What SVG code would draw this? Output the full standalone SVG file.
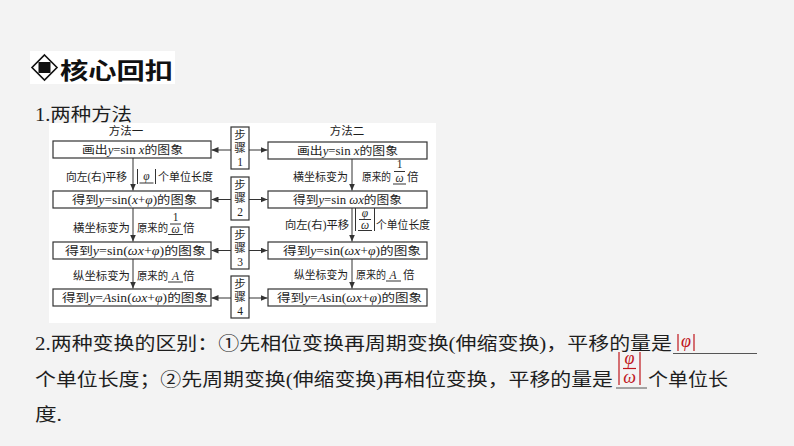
<svg xmlns="http://www.w3.org/2000/svg" width="794" height="446" viewBox="0 0 794 446">
<defs>
<style>
.d{font-family:"Liberation Serif","Noto Sans CJK SC",serif;font-size:11.5px;fill:#1e1e1e}
.i{font-style:italic}
.b{font-family:"Liberation Serif","Noto Sans CJK SC",serif;font-size:18px;fill:#1e1e1e}
.r{fill:#c0161c}
.box{fill:#fff;stroke:#333;stroke-width:1.2}
.ln{stroke:#333;stroke-width:1;fill:none}
.ul{stroke:#333;stroke-width:1}
.rl{stroke:#c0161c;stroke-width:1.2}
</style>
<marker id="ah" markerWidth="7" markerHeight="6" refX="7" refY="3" orient="auto" markerUnits="userSpaceOnUse">
<path d="M0,0 L7,3 L0,6 z" fill="#333"/>
</marker>
</defs>
<rect width="794" height="446" fill="#f3f3f3"/>
<rect x="49" y="123" width="387" height="200" fill="#fff"/>

<g id="title">
<rect x="30" y="51" width="145" height="33" fill="#fff"/>
<path d="M44.5,55 L57,67.5 L44.5,80 L32,67.5 Z" fill="none" stroke="#111" stroke-width="1.6"/>
<rect x="38.5" y="62" width="12" height="11" fill="#111"/>
<text x="60" y="79" font-family="'Noto Sans CJK SC',sans-serif" font-weight="bold" font-size="23" textLength="113" lengthAdjust="spacingAndGlyphs" fill="#111">核心回扣</text>
</g>

<text class="b" x="35" y="121" textLength="97" lengthAdjust="spacingAndGlyphs">1.两种方法</text>

<g id="headers">
<text class="d" x="126" y="135" text-anchor="middle">方法一</text>
<text class="d" x="347" y="135" text-anchor="middle">方法二</text>
</g>

<g id="L1"><rect class="box" x="53" y="141" width="158" height="17"/>
<text class="d" x="82" y="154" textLength="101" lengthAdjust="spacingAndGlyphs">画出<tspan class="i">y</tspan>=sin <tspan class="i">x</tspan>的图象</text></g>
<g id="L2"><rect class="box" x="53" y="191" width="158" height="17"/>
<text class="d" x="72" y="204" textLength="125" lengthAdjust="spacingAndGlyphs">得到<tspan class="i">y</tspan>=sin(<tspan class="i">x</tspan>+<tspan class="i">φ</tspan>)的图象</text></g>
<g id="L3"><rect class="box" x="53" y="242" width="158" height="17"/>
<text class="d" x="65" y="255" textLength="141" lengthAdjust="spacingAndGlyphs">得到<tspan class="i">y</tspan>=sin(<tspan class="i">ωx</tspan>+<tspan class="i">φ</tspan>)的图象</text></g>
<g id="L4"><rect class="box" x="53" y="289" width="158" height="17"/>
<text class="d" x="62" y="302" textLength="146" lengthAdjust="spacingAndGlyphs">得到<tspan class="i">y</tspan>=<tspan class="i">A</tspan>sin(<tspan class="i">ωx</tspan>+<tspan class="i">φ</tspan>)的图象</text></g>

<g id="R1"><rect class="box" x="268" y="142" width="159" height="17"/>
<text class="d" x="297" y="155" textLength="101" lengthAdjust="spacingAndGlyphs">画出<tspan class="i">y</tspan>=sin <tspan class="i">x</tspan>的图象</text></g>
<g id="R2"><rect class="box" x="268" y="191" width="159" height="17"/>
<text class="d" x="293" y="204" textLength="109" lengthAdjust="spacingAndGlyphs">得到<tspan class="i">y</tspan>=sin <tspan class="i">ωx</tspan>的图象</text></g>
<g id="R3"><rect class="box" x="268" y="242" width="159" height="17"/>
<text class="d" x="283" y="255" textLength="138" lengthAdjust="spacingAndGlyphs">得到<tspan class="i">y</tspan>=sin(<tspan class="i">ωx</tspan>+<tspan class="i">φ</tspan>)的图象</text></g>
<g id="R4"><rect class="box" x="268" y="289" width="159" height="17"/>
<text class="d" x="277" y="302" textLength="145" lengthAdjust="spacingAndGlyphs">得到<tspan class="i">y</tspan>=<tspan class="i">A</tspan>sin(<tspan class="i">ωx</tspan>+<tspan class="i">φ</tspan>)的图象</text></g>

<g id="S1"><rect class="box" x="231" y="127" width="18" height="42"/>
<text class="d" x="240" y="139" text-anchor="middle">步</text><text class="d" x="240" y="152" text-anchor="middle">骤</text><text class="d" x="240" y="166" text-anchor="middle">1</text></g>
<g id="S2"><rect class="box" x="231" y="177" width="18" height="43"/>
<text class="d" x="240" y="189" text-anchor="middle">步</text><text class="d" x="240" y="202" text-anchor="middle">骤</text><text class="d" x="240" y="216" text-anchor="middle">2</text></g>
<g id="S3"><rect class="box" x="231" y="227" width="18" height="42"/>
<text class="d" x="240" y="239" text-anchor="middle">步</text><text class="d" x="240" y="252" text-anchor="middle">骤</text><text class="d" x="240" y="266" text-anchor="middle">3</text></g>
<g id="S4"><rect class="box" x="231" y="276" width="18" height="42"/>
<text class="d" x="240" y="288" text-anchor="middle">步</text><text class="d" x="240" y="301" text-anchor="middle">骤</text><text class="d" x="240" y="315" text-anchor="middle">4</text></g>

<g id="connectors">
<line class="ln" x1="231" y1="150" x2="211.5" y2="150" marker-end="url(#ah)"/>
<line class="ln" x1="249" y1="150" x2="267.5" y2="150" marker-end="url(#ah)"/>
<line class="ln" x1="231" y1="199.5" x2="211.5" y2="199.5" marker-end="url(#ah)"/>
<line class="ln" x1="249" y1="199.5" x2="267.5" y2="199.5" marker-end="url(#ah)"/>
<line class="ln" x1="231" y1="250.5" x2="211.5" y2="250.5" marker-end="url(#ah)"/>
<line class="ln" x1="249" y1="250.5" x2="267.5" y2="250.5" marker-end="url(#ah)"/>
<line class="ln" x1="231" y1="298" x2="211.5" y2="298" marker-end="url(#ah)"/>
<line class="ln" x1="249" y1="298" x2="267.5" y2="298" marker-end="url(#ah)"/>
<line class="ln" x1="133" y1="158" x2="133" y2="190.5" marker-end="url(#ah)"/>
<line class="ln" x1="133" y1="208" x2="133" y2="241.5" marker-end="url(#ah)"/>
<line class="ln" x1="133" y1="259" x2="133" y2="288.5" marker-end="url(#ah)"/>
<line class="ln" x1="352" y1="159" x2="352" y2="190.5" marker-end="url(#ah)"/>
<line class="ln" x1="352" y1="208" x2="352" y2="241.5" marker-end="url(#ah)"/>
<line class="ln" x1="352" y1="259" x2="352" y2="288.5" marker-end="url(#ah)"/>
</g>

<g id="label-L1">
<text class="d" x="66" y="181" textLength="61" lengthAdjust="spacingAndGlyphs">向左(右)平移</text>
<line class="ul" x1="137.5" y1="169" x2="137.5" y2="184"/>
<line class="ul" x1="155.5" y1="169" x2="155.5" y2="184"/>
<text class="d i" x="146.5" y="180" text-anchor="middle">φ</text>
<line class="ul" x1="139.5" y1="183" x2="153.5" y2="183"/>
<text class="d" x="158" y="181" textLength="55" lengthAdjust="spacingAndGlyphs">个单位长度</text>
</g>
<g id="label-L2">
<text class="d" x="73" y="232" textLength="57" lengthAdjust="spacingAndGlyphs">横坐标变为</text>
<text class="d" x="137" y="232" textLength="31" lengthAdjust="spacingAndGlyphs">原来的</text>
<text class="d" x="175.5" y="221" text-anchor="middle" font-size="9">1</text>
<line class="ul" x1="170" y1="224" x2="181" y2="224"/>
<text class="d i" x="175.5" y="233" text-anchor="middle" font-size="10">ω</text>
<line class="ul" x1="168" y1="234.5" x2="183" y2="234.5"/>
<text class="d" x="183" y="232">倍</text>
</g>
<g id="label-L3">
<text class="d" x="73" y="280" textLength="57" lengthAdjust="spacingAndGlyphs">纵坐标变为</text>
<text class="d" x="137" y="280" textLength="31" lengthAdjust="spacingAndGlyphs">原来的</text>
<text class="d i" x="175.5" y="280" text-anchor="middle">A</text>
<line class="ul" x1="168" y1="282" x2="183" y2="282"/>
<text class="d" x="183" y="280">倍</text>
</g>
<g id="label-R1">
<text class="d" x="293" y="181" textLength="55" lengthAdjust="spacingAndGlyphs">横坐标变为</text>
<text class="d" x="362" y="181" textLength="29" lengthAdjust="spacingAndGlyphs">原来的</text>
<text class="d" x="399.5" y="168" text-anchor="middle" font-size="9">1</text>
<line class="ul" x1="394" y1="171.5" x2="405" y2="171.5"/>
<text class="d i" x="399.5" y="182" text-anchor="middle" font-size="10">ω</text>
<line class="ul" x1="393" y1="184" x2="406" y2="184"/>
<text class="d" x="407" y="181">倍</text>
</g>
<g id="label-R2">
<text class="d" x="285" y="229" textLength="64" lengthAdjust="spacingAndGlyphs">向左(右)平移</text>
<line class="ul" x1="355.5" y1="208" x2="355.5" y2="231"/>
<line class="ul" x1="374.5" y1="208" x2="374.5" y2="231"/>
<text class="d i" x="365" y="217" text-anchor="middle" font-size="10">φ</text>
<line class="ul" x1="359" y1="219.5" x2="371" y2="219.5"/>
<text class="d i" x="365" y="229" text-anchor="middle" font-size="10">ω</text>
<line class="ul" x1="358" y1="230.5" x2="372" y2="230.5"/>
<text class="d" x="376" y="229" textLength="54" lengthAdjust="spacingAndGlyphs">个单位长度</text>
</g>
<g id="label-R3">
<text class="d" x="294" y="279" textLength="54" lengthAdjust="spacingAndGlyphs">纵坐标变为</text>
<text class="d" x="356" y="279" textLength="30" lengthAdjust="spacingAndGlyphs">原来的</text>
<text class="d i" x="393" y="279" text-anchor="middle">A</text>
<line class="ul" x1="386" y1="281" x2="401" y2="281"/>
<text class="d" x="403" y="279">倍</text>
</g>

<g id="text2">
<text class="b" x="35" y="350" textLength="637" lengthAdjust="spacingAndGlyphs">2.两种变换的区别：①先相位变换再周期变换(伸缩变换)，平移的量是</text>
<line class="rl" x1="678" y1="334" x2="678" y2="351"/>
<line class="rl" x1="694" y1="334" x2="694" y2="351"/>
<text class="b i r" x="686" y="347" text-anchor="middle" font-size="17">φ</text>
<line x1="673" y1="353.5" x2="757" y2="353.5" stroke="#555" stroke-width="1"/>
<text class="b" x="35" y="386" textLength="578" lengthAdjust="spacingAndGlyphs">个单位长度；②先周期变换(伸缩变换)再相位变换，平移的量是</text>
<line class="rl" x1="619" y1="352" x2="619" y2="385"/>
<line class="rl" x1="640" y1="352" x2="640" y2="385"/>
<text class="b i r" x="629.5" y="364" text-anchor="middle" font-size="13">φ</text>
<line class="rl" x1="623" y1="368.5" x2="636" y2="368.5"/>
<text class="b i r" x="629.5" y="383" text-anchor="middle" font-size="13">ω</text>
<line x1="616" y1="388" x2="647" y2="388" stroke="#555" stroke-width="1"/>
<text class="b" x="648" y="386" textLength="80" lengthAdjust="spacingAndGlyphs">个单位长</text>
<text class="b" x="35" y="421" textLength="27" lengthAdjust="spacingAndGlyphs">度.</text>
</g>
</svg>
